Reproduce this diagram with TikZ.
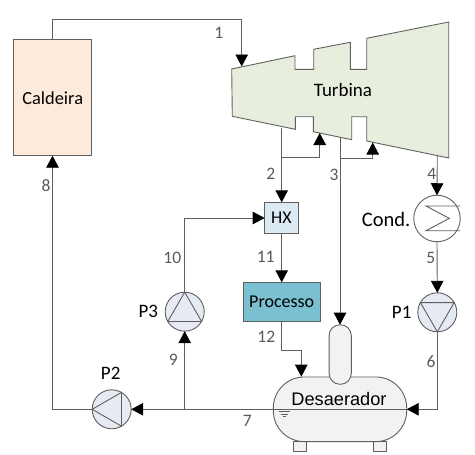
\documentclass[tikz,border=0pt]{standalone}
\usepackage{fontspec}
\usepackage{xcolor}
\usepackage{tikz}
\usetikzlibrary{calc,arrows.meta}
\setmainfont{Carlito}
\newfontfamily\arialfont{Liberation Sans}
\definecolor{linecol}{HTML}{5F5F5F}
\definecolor{numcol}{HTML}{595959}
\definecolor{boiler}{HTML}{FDEADA}
\definecolor{turb}{HTML}{E8EEDD}
\definecolor{hxfill}{HTML}{DCEBF3}
\definecolor{procfill}{HTML}{7BC0D0}
\definecolor{pumpfill}{HTML}{E6EBF3}
\definecolor{tank}{HTML}{F2F2F2}
\tikzset{
  pipe/.style={draw=linecol, line width=0.9pt},
  flow/.style={pipe, -{Triangle[length=12pt,width=12.5pt,color=black]}},
  unitbox/.style={draw=linecol, line width=0.9pt, inner sep=0pt, outer sep=0pt, font=\fontsize{18}{20}\selectfont},
  pump/.style={circle, draw=linecol, line width=0.9pt, fill=pumpfill, minimum size=39pt, inner sep=0pt, outer sep=0pt},
  num/.style={text=numcol, font=\fontsize{17.5}{19}\selectfont, inner sep=0pt},
  lab/.style={text=black, font=\fontsize{19}{21}\selectfont, inner sep=0pt},
}
\begin{document}
\begin{tikzpicture}[x=1pt,y=-1pt]
\useasboundingbox (0,0) rectangle (475,455);

% units
\node[unitbox, fill=boiler, minimum width=77.6pt, minimum height=116.4pt] (caldeira) at (52.5,97.5) {};
\node[lab, font=\fontsize{18.4}{20}\selectfont] (caldeiratxt) at (52.7,97.7) {Caldeira};
\draw[pipe, fill=turb] (231.7,69)--(295,55.7)--(295,69.3)--(313.7,69.3)--(313.7,49.3)--(350.3,42.3)
  --(350.3,69.3)--(366.7,69.3)--(366.7,38.3)--(448.7,22)--(448.7,158)--(366.7,141)--(366.7,116.7)
  --(351.7,116.7)--(351.7,139.7)--(313.3,131.7)--(313.3,116.7)--(295.3,116.7)--(295.3,129.3)
  --(232.3,116.3)--cycle;
\node[lab] (turbina) at (343,90) {Turbina};
\node[unitbox, fill=hxfill, minimum width=33.6pt, minimum height=31.4pt] (HX) at (281.5,218) {HX};
\node[unitbox, fill=procfill, minimum width=77.3pt, minimum height=39pt] (processo) at (281.7,301.8) {Processo};

% deaerator
\draw[pipe, fill=tank] (293.7,441) rectangle (306.7,451.3);
\draw[pipe, fill=tank] (373,441) rectangle (386.7,451.3);
\node[unitbox, fill=tank, rounded corners=31pt, minimum width=133.4pt, minimum height=64.7pt] (desaerador) at (340,409.3) {};
\node[unitbox, fill=tank, rounded corners=11pt, minimum width=22.3pt, minimum height=59.6pt] (domo) at (340.2,354.5) {};
\draw[pipe] (desaerador.west)--(desaerador.east);
\node[lab, font=\arialfont\fontsize{18.2}{20}\selectfont] (desaeradortxt) at (339,399) {Desaerador};
\draw[pipe, line width=0.5pt] (278.7,411.7)--(290,411.7) (281,414)--(288.3,414) (282.7,416.3)--(286,416.3);

% pumps and condenser
\node[pump] (P1) at (437.3,312.3) {};
\node[pump] (P2) at (111.7,409.3) {};
\node[pump] (P3) at (184.7,311.7) {};
\foreach \name/\ang in {P1/-90,P2/180,P3/90}{
  \draw[pipe] ($(\name)+(\ang:19.5pt)$)--($(\name)+(\ang+120:19.5pt)$)--($(\name)+(\ang+240:19.5pt)$)--cycle;
}
\node[circle, draw=linecol, line width=0.9pt, minimum size=46.5pt, inner sep=0pt, outer sep=0pt] (cond) at (437,218.5) {};
\draw[pipe] (460,206)--(426,206)--(449.3,218.4)--(426,230.7)--(460,230.7);

% named points on the turbine and the junctions
\coordinate (in1) at (241.7,66.5);
\coordinate (out2) at (281.7,128);
\coordinate (ret2) at (319.7,133);
\coordinate (out3) at (340,137);
\coordinate (ret3) at (372.7,142.5);
\coordinate (out4) at (437.3,155.6);
\coordinate (j9) at (184.7,409.3);

% connectors
\draw[flow] (caldeira.north) -- ++(0,-20) -| (in1);
\draw[flow] (out2) -- (out2 |- HX.north);
\draw[flow] (out2 |- 0,157.7) -| (ret2);
\draw[flow] (out3) -- (out3 |- domo.north);
\draw[flow] (out3 |- 0,158) -| (ret3);
\draw[flow] (out4) -- (cond.north);
\draw[flow] (cond.south) -- (P1.north);
\draw[flow] (P1.south) |- (desaerador.east);
\draw[flow] (desaerador.west) -- (P2.east);
\draw[flow] (P2.west) -| (caldeira.south);
\draw[flow] (j9) -- (P3.south);
\draw[flow] (P3.north) |- (HX.west);
\draw[flow] (out2 |- HX.south) -- (out2 |- processo.north);
\draw[flow] (out2 |- processo.south) -- (281.7,350.3) -| (301.3,376.7);

% labels
\node[num] (n1) at (218.7,33) {1};
\node[num] (n2) at (270.7,174.3) {2};
\node[num] (n3) at (334,174.5) {3};
\node[num] (n4) at (431.7,174) {4};
\node[num] (n5) at (430.7,258) {5};
\node[num] (n6) at (431,361.5) {6};
\node[num] (n7) at (247.3,420.7) {7};
\node[num] (n8) at (46,185.7) {8};
\node[num] (n9) at (173.3,360) {9};
\node[num] (n10) at (172.3,258.3) {10};
\node[num] (n11) at (265.7,257.3) {11};
\node[num] (n12) at (266.3,336.7) {12};
\node[lab] (lP1) at (401.7,312.7) {P1};
\node[lab] (lP2) at (110.7,373.3) {P2};
\node[lab] (lP3) at (148.3,311.7) {P3};
\node[lab, anchor=east, font=\fontsize{20.5}{22}\selectfont] (lcond) at (410.5,219) {Cond.};
\end{tikzpicture}
\end{document}
